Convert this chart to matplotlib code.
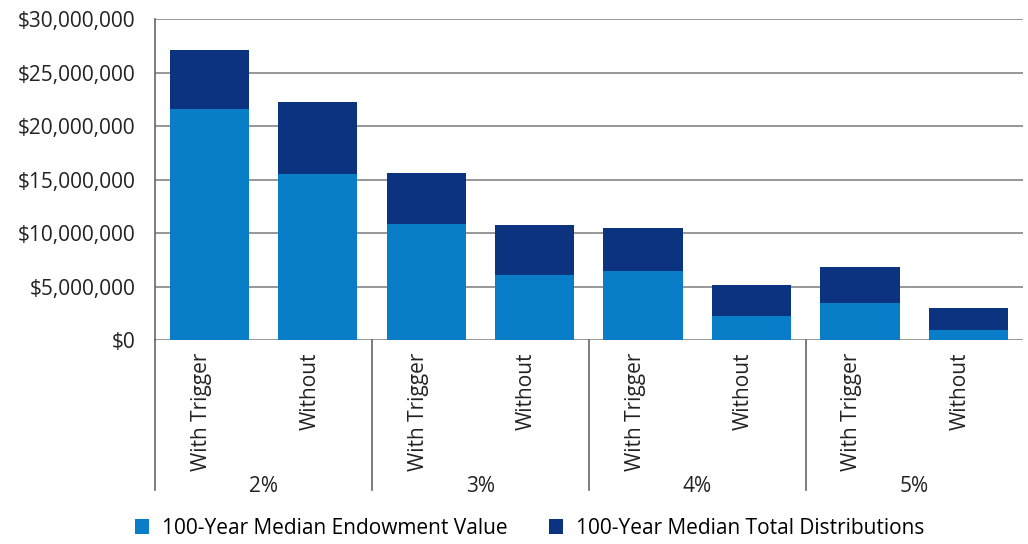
import matplotlib
matplotlib.use("Agg")
import matplotlib.pyplot as plt
import matplotlib.transforms as mtransforms
from matplotlib.ticker import FuncFormatter

plt.rcParams['font.family'] = ['Open Sans', 'DejaVu Sans']

# data (dollars, millions)
rates = ['2%', '3%', '4%', '5%']
scenarios = ['With Trigger', 'Without']
endowment = [21.6, 15.5, 10.8, 6.05, 6.45, 2.2, 3.5, 0.95]
distributions = [5.5, 6.7, 4.8, 4.7, 4.05, 2.9, 3.35, 2.0]
series_names = ['100-Year Median Endowment Value', '100-Year Median Total Distributions']

light = '#0a7dc9'
dark = '#0b337f'
grid_col = '#8f8f8f'
txt_col = '#222222'
fs = 15

fig = plt.figure(figsize=(10.28, 5.44), dpi=100)
ax = fig.add_axes([0.1508, 0.375, 0.844, 0.59])

x = list(range(len(endowment)))
e = [v * 1e6 for v in endowment]
d = [v * 1e6 for v in distributions]
ax.bar(x, e, width=0.73, color=light, label=series_names[0], zorder=3)
ax.bar(x, d, width=0.73, bottom=e, color=dark, label=series_names[1], zorder=3)

ax.set_xlim(-0.5, len(x) - 0.5)
ax.set_ylim(0, 30e6)
ax.set_yticks([i * 5e6 for i in range(7)])
ax.yaxis.set_major_formatter(FuncFormatter(lambda v, p: '${:,.0f}'.format(v)))
ax.grid(axis='y', color=grid_col, lw=1.3, zorder=0)
ax.tick_params(axis='y', length=0, pad=14, labelsize=fs, colors=txt_col)

ax.set_xticks(x)
ax.set_xticklabels(scenarios * len(rates), rotation=90, fontsize=fs, color=txt_col)
ax.tick_params(axis='x', length=0, pad=9)
# labels sit a little left of the bar centres in the original
shift = mtransforms.ScaledTranslation(-0.08, 0, fig.dpi_scale_trans)
for lab in ax.get_xticklabels():
    lab.set_transform(lab.get_transform() + shift)

for s in ['top', 'right', 'bottom']:
    ax.spines[s].set_visible(False)
ax.spines['left'].set_color('#666666')
ax.spines['left'].set_linewidth(1.2)

# group separators and group labels below the axis
trans = mtransforms.blended_transform_factory(ax.transData, ax.transAxes)
for i in range(len(rates)):
    xl = i * 2 - 0.5
    ax.plot([xl, xl], [0, -0.467], transform=trans, color='#666666', lw=1.2, clip_on=False)
    ax.text(i * 2 + 0.5, -0.455, rates[i], transform=trans, ha='center', va='center',
            fontsize=fs, color=txt_col)

leg = fig.legend(loc='lower center', bbox_to_anchor=(0.515, -0.025), ncol=2, frameon=False,
                 fontsize=fs, handlelength=0.7, handleheight=0.7, columnspacing=2.0,
                 handletextpad=0.6)

fig.savefig('out.png', dpi=100)
